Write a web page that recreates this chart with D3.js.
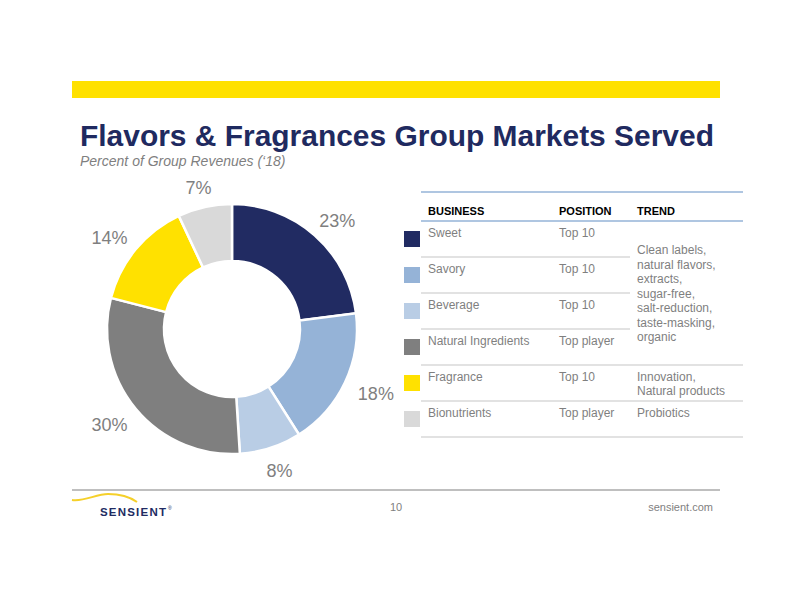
<!DOCTYPE html>
<html><head><meta charset="utf-8">
<script src="https://cdn.jsdelivr.net/npm/d3@7/dist/d3.min.js"></script>
<style>body{margin:0;background:#fff}svg{display:block;font-family:"Liberation Sans",Arial,sans-serif}</style>
</head><body>
<script>
const categories = ["Sweet","Savory","Beverage","Natural Ingredients","Fragrance","Bionutrients"];
const values = [23,18,8,30,14,7];
const positions = ["Top 10","Top 10","Top 10","Top player","Top 10","Top player"];
const colors = ["#212b62","#95b3d7","#b9cde5","#7f7f7f","#ffe100","#d9d9d9"];
const headers = ["BUSINESS","POSITION","TREND"];
const trendGroups = [
  {rows:[0,3], lines:["Clean labels,","natural flavors,","extracts,","sugar-free,","salt-reduction,","taste-masking,","organic"]},
  {rows:[4,4], lines:["Innovation,","Natural products"]},
  {rows:[5,5], lines:["Probiotics"]}
];

const W=792,H=612;
const svg=d3.select("body").append("svg").attr("width",W).attr("height",H);

// top yellow bar
svg.append("rect").attr("x",72).attr("y",81).attr("width",648).attr("height",17).attr("fill","#ffe100");

// title
const title=svg.append("text").attr("x",80).attr("y",146).attr("fill","#1f2a60")
  .attr("font-weight","bold").attr("font-size",29).text("Flavors & Fragrances Group Markets Served");
const tw=title.node().getComputedTextLength();
title.attr("font-size",29*634/tw);
svg.append("text").attr("x",80).attr("y",166).attr("fill","#7f7f7f").attr("font-style","italic")
  .attr("font-size",14).text("Percent of Group Revenues (\u201818)");

// donut
const cx=232,cy=329;
const outerR=125;
const pie=d3.pie().sort(null).value(d=>d);
const arcs=pie(values);
const arc=d3.arc().innerRadius(68).outerRadius(outerR);
const g=svg.append("g").attr("transform",`translate(${cx},${cy})`);
g.selectAll("path").data(arcs).join("path").attr("d",arc)
  .attr("fill",(d,i)=>colors[i]).attr("stroke","#fff").attr("stroke-width",2.5);
const labels=g.selectAll("text").data(arcs).join("text")
  .attr("text-anchor","middle").attr("dy","0.35em").attr("font-size",18).attr("fill","#7f7f7f")
  .text(d=>d.data+"%");
// place label boxes just outside the ring along the mid angle
labels.each(function(d){
  const a=(d.startAngle+d.endAngle)/2, s=Math.sin(a), c=Math.cos(a);
  const w=this.getComputedTextLength(), h=18, r0=outerR+13;
  d3.select(this).attr("x", r0*s + (w/2+3)*s).attr("y", -r0*c - (h/2)*c + 2);
});

// table
const tx0=421, tx1=743, colX=[428,559,637];
const rowTop=221, rowH=36;
const y=d3.scaleLinear().domain([0,1]).range([rowTop,rowTop+rowH]);
svg.append("line").attr("x1",tx0).attr("x2",tx1).attr("y1",192).attr("y2",192).attr("stroke","#95b3d7").attr("stroke-width",1.5);
svg.append("line").attr("x1",tx0).attr("x2",tx1).attr("y1",rowTop).attr("y2",rowTop).attr("stroke","#95b3d7").attr("stroke-width",1.5);
svg.selectAll("text.hdr").data(headers).join("text").attr("class","hdr")
  .attr("x",(d,i)=>colX[i]).attr("y",215).attr("font-size",11).attr("font-weight","bold").attr("fill","#000").text(d=>d);
categories.forEach((c,i)=>{
  const top=y(i);
  svg.append("rect").attr("x",404).attr("y",top+10).attr("width",16).attr("height",16).attr("fill",colors[i]);
  svg.append("text").attr("x",colX[0]).attr("y",top+15.5).attr("font-size",12).attr("fill","#7f7f7f").text(c);
  svg.append("text").attr("x",colX[1]).attr("y",top+15.5).attr("font-size",12).attr("fill","#7f7f7f").text(positions[i]);
  const inGroup=trendGroups.find(t=>i>=t.rows[0]&&i<t.rows[1]);
  svg.append("line").attr("x1",tx0).attr("x2",inGroup?630:tx1).attr("y1",y(i+1)).attr("y2",y(i+1))
    .attr("stroke","#d9d9d9").attr("stroke-width",1.5);
});
trendGroups.forEach(t=>{
  const n=t.lines.length, lh=14.5;
  let y0;
  if(t.rows[0]===t.rows[1]) y0=y(t.rows[0])+15.5;
  else { const mid=(y(t.rows[0])+y(t.rows[1]+1))/2; y0=mid-(n-1)*lh/2+4.5; }
  t.lines.forEach((l,k)=>{
    svg.append("text").attr("x",colX[2]).attr("y",y0+k*lh).attr("font-size",12).attr("fill","#7f7f7f").text(l);
  });
});

// footer
svg.append("line").attr("x1",72).attr("x2",720).attr("y1",490).attr("y2",490).attr("stroke","#bfbfbf").attr("stroke-width",2);
svg.append("path").attr("d","M72,500 C84,502 96,494 108,494 C120,494 130,497 137,502")
  .attr("fill","none").attr("stroke","#f5d02a").attr("stroke-width",2);
svg.append("text").attr("x",100).attr("y",516).attr("font-size",11.5).attr("font-weight","bold")
  .attr("letter-spacing",1.2).attr("fill","#212b62").text("SENSIENT");
svg.append("text").attr("x",168).attr("y",510).attr("font-size",5).attr("fill","#212b62").text("\u00ae");
svg.append("text").attr("x",396).attr("y",511).attr("text-anchor","middle").attr("font-size",11).attr("fill","#7f7f7f").text("10");
svg.append("text").attr("x",713).attr("y",511).attr("text-anchor","end").attr("font-size",11).attr("fill","#7f7f7f").text("sensient.com");
</script>
</body></html>
